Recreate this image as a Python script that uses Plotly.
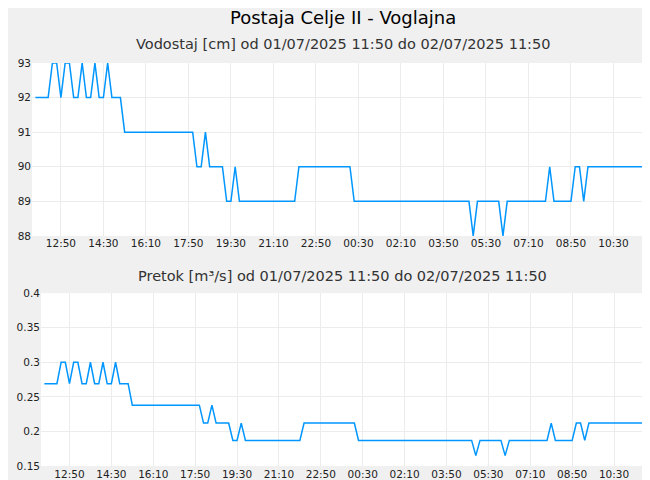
import plotly.graph_objects as go

times = ["11:50", "12:20", "12:30", "12:40", "12:50", "13:00", "13:10", "13:20", "13:30", "13:40",
         "13:50", "14:00", "14:10", "14:20", "14:30", "14:40", "14:50", "15:10", "15:20", "18:00",
         "18:10", "18:20", "18:30", "18:40", "19:10", "19:20", "19:30", "19:40", "19:50", "22:00",
         "22:10", "00:10", "00:20", "04:50", "05:00", "05:10", "06:00", "06:10", "06:20", "07:50",
         "08:00", "08:10", "08:50", "09:00", "09:10", "09:20", "09:30", "11:50"]
day = [1] * 31 + [2] * 17

vodostaj = [92, 92, 93, 93, 92, 93, 93, 92, 92, 93,
            92, 92, 93, 92, 92, 93, 92, 92, 91, 91,
            90, 90, 91, 90, 90, 89, 89, 90, 89, 89,
            90, 90, 89, 89, 88, 89, 89, 88, 89, 89,
            90, 89, 89, 90, 90, 89, 90, 90]
pretok = [0.269, 0.269, 0.30, 0.30, 0.269, 0.30, 0.30, 0.269, 0.269, 0.30,
          0.269, 0.269, 0.30, 0.269, 0.269, 0.30, 0.269, 0.269, 0.238, 0.238,
          0.212, 0.212, 0.238, 0.212, 0.212, 0.187, 0.187, 0.212, 0.187, 0.187,
          0.212, 0.212, 0.187, 0.187, 0.165, 0.187, 0.187, 0.165, 0.187, 0.187,
          0.212, 0.187, 0.187, 0.212, 0.212, 0.187, 0.212, 0.212]

x = [f"2025-07-0{d} {t}" for d, t in zip(day, times)]
line = dict(color="#0096ff", width=1.5)

fig = go.Figure()
fig.add_trace(go.Scatter(x=x, y=vodostaj, mode="lines", line=line, xaxis="x", yaxis="y"))
fig.add_trace(go.Scatter(x=x, y=pretok, mode="lines", line=line, xaxis="x2", yaxis="y2"))

xcommon = dict(type="date", range=["2025-07-01 11:42", "2025-07-02 12:03"],
               tick0="2025-07-01 12:50", dtick=100 * 60 * 1000, tickformat="%H:%M",
               showgrid=True, gridcolor="#ececec", zeroline=False, ticks="", automargin=False,
               tickfont=dict(size=10.5, color="#222"))
ycommon = dict(showgrid=True, gridcolor="#ececec", zeroline=False, ticks="", automargin=False,
               tickfont=dict(size=10.5, color="#222"))

fig.update_layout(
    width=650, height=480, showlegend=False,
    paper_bgcolor="#f0f0f0", plot_bgcolor="white",
    font=dict(family="DejaVu Sans", color="#222"),
    margin=dict(l=24, r=5, t=55, b=22),
    xaxis=dict(xcommon, domain=[0, 1], anchor="y"),
    yaxis=dict(ycommon, domain=[0.571, 1], range=[88, 93], dtick=1, anchor="x"),
    xaxis2=dict(xcommon, domain=[0.0145, 1], anchor="y2"),
    yaxis2=dict(ycommon, domain=[0, 0.429], range=[0.15, 0.4], dtick=0.05, anchor="x2"),
    annotations=[
        dict(text="Postaja Celje II - Voglajna", x=0.5, y=1, xref="paper", yref="paper",
             yanchor="bottom", yshift=33, showarrow=False, font=dict(size=18, color="#000")),
        dict(text="Vodostaj [cm] od 01/07/2025 11:50 do 02/07/2025 11:50", x=0.5, xref="paper",
             y=1, yref="paper", yanchor="bottom", yshift=9, showarrow=False,
             font=dict(size=14.5, color="#333")),
        dict(text="Pretok [m³/s] od 01/07/2025 11:50 do 02/07/2025 11:50", x=0.5, xref="paper",
             y=0.429, yref="paper", yanchor="bottom", yshift=7, showarrow=False,
             font=dict(size=14.5, color="#333")),
    ],
)
fig.write_html("out.html")
